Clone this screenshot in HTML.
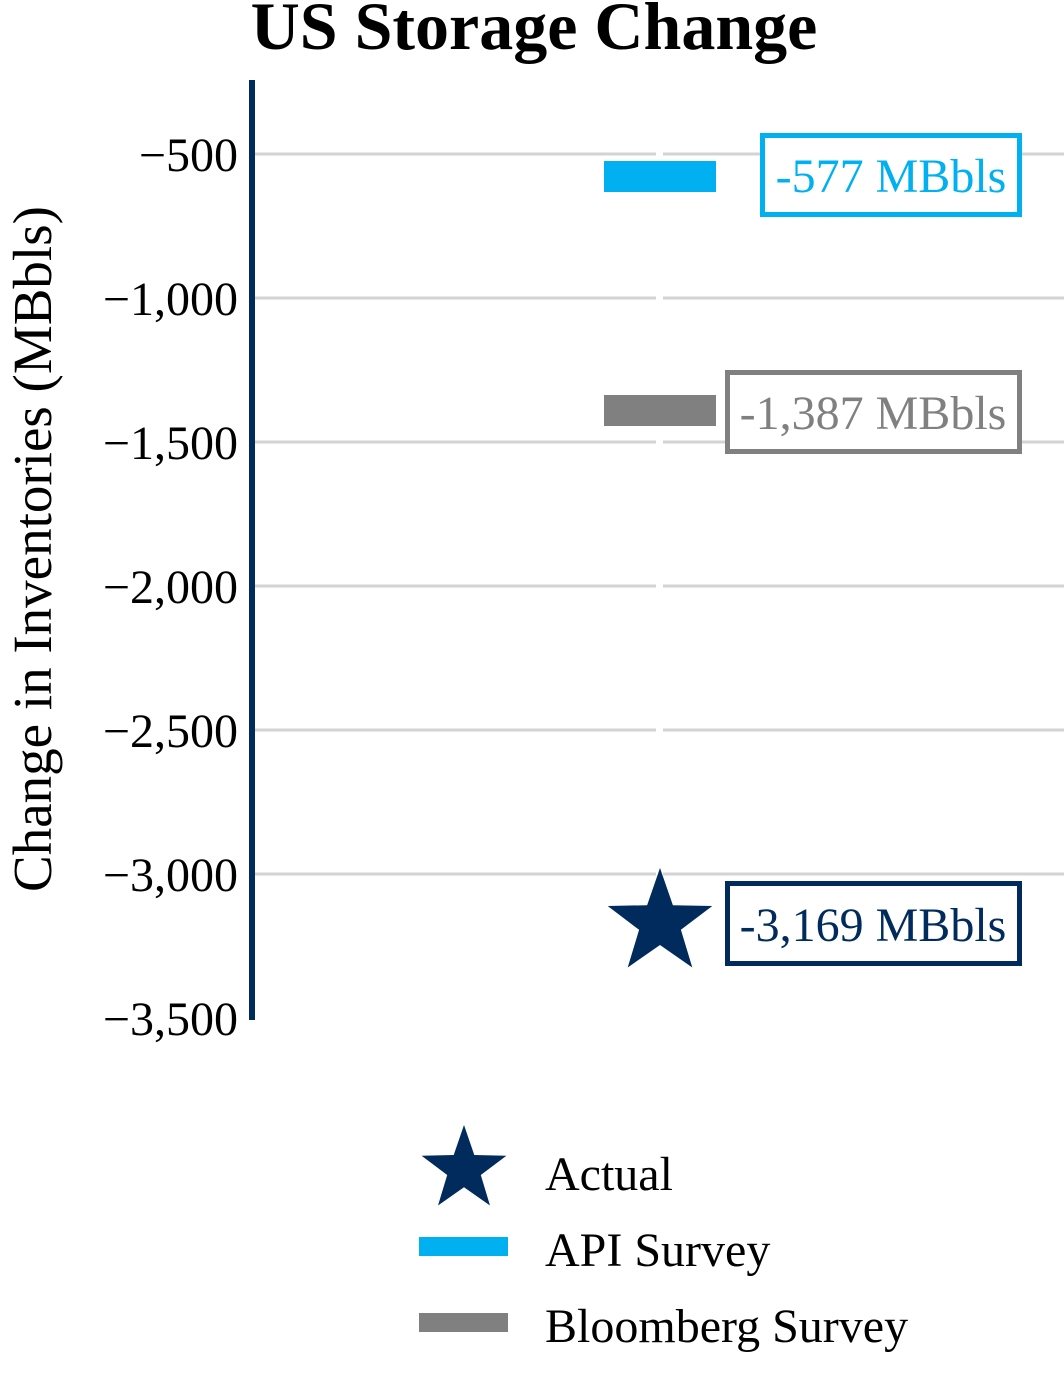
<!DOCTYPE html>
<html><head><meta charset="utf-8"><style>
html,body{margin:0;padding:0;background:#fff;}
svg{display:block;}
text{font-family:"Liberation Serif",serif;}
</style></head><body>
<svg width="1064" height="1380" viewBox="0 0 1064 1380" xmlns="http://www.w3.org/2000/svg">
<rect width="1064" height="1380" fill="#fff"/>
<text x="534" y="49" font-size="68" font-weight="bold" text-anchor="middle" fill="#000">US Storage Change</text>
<g stroke="#d3d3d3" stroke-width="3">
<line x1="252" y1="154" x2="1064" y2="154"/>
<line x1="252" y1="298" x2="1064" y2="298"/>
<line x1="252" y1="442" x2="1064" y2="442"/>
<line x1="252" y1="586" x2="1064" y2="586"/>
<line x1="252" y1="730" x2="1064" y2="730"/>
<line x1="252" y1="874" x2="1064" y2="874"/>
</g>
<rect x="656" y="140" width="7" height="800" fill="#fff"/>
<line x1="252" y1="80" x2="252" y2="1020" stroke="#002b5c" stroke-width="6"/>
<g font-size="48" text-anchor="end" fill="#000">
<text x="238" y="171">−500</text>
<text x="238" y="315">−1,000</text>
<text x="238" y="459">−1,500</text>
<text x="238" y="603">−2,000</text>
<text x="238" y="747">−2,500</text>
<text x="238" y="891">−3,000</text>
<text x="238" y="1035">−3,500</text>
</g>
<text transform="translate(51,549) rotate(-90)" font-size="55" text-anchor="middle" fill="#000">Change in Inventories (MBbls)</text>
<rect x="604" y="161" width="112" height="31" fill="#00b0f0"/>
<rect x="604" y="395" width="112" height="31" fill="#808080"/>
<polygon fill="#002b5c" points="660,868 672.9,905.2 712.3,906 680.9,929.8 692.3,967.5 660,945 627.7,967.5 639.1,929.8 607.7,906 647.1,905.2"/>
<rect x="762.5" y="135.5" width="257" height="79" fill="#fff" stroke="#00b0f0" stroke-width="5"/>
<text x="891" y="192" font-size="48" text-anchor="middle" fill="#00b0f0">-577 MBbls</text>
<rect x="727.5" y="372.5" width="292" height="79" fill="#fff" stroke="#808080" stroke-width="5"/>
<text x="873" y="429" font-size="48" text-anchor="middle" fill="#808080">-1,387 MBbls</text>
<rect x="727.5" y="883.5" width="292" height="80" fill="#fff" stroke="#002b5c" stroke-width="5"/>
<text x="873" y="941" font-size="48" text-anchor="middle" fill="#002b5c">-3,169 MBbls</text>
<polygon fill="#002b5c" points="464,1125 474.3,1155 506.4,1155.7 480.8,1175 490,1205.5 464,1187.3 438,1205.5 447.2,1175 421.6,1155.7 453.7,1155"/>
<rect x="419" y="1237" width="89" height="19" fill="#00b0f0"/>
<rect x="419" y="1313" width="89" height="19" fill="#808080"/>
<g font-size="48" fill="#000">
<text x="545" y="1190">Actual</text>
<text x="545" y="1266">API Survey</text>
<text x="545" y="1342">Bloomberg Survey</text>
</g>
</svg>
</body></html>
